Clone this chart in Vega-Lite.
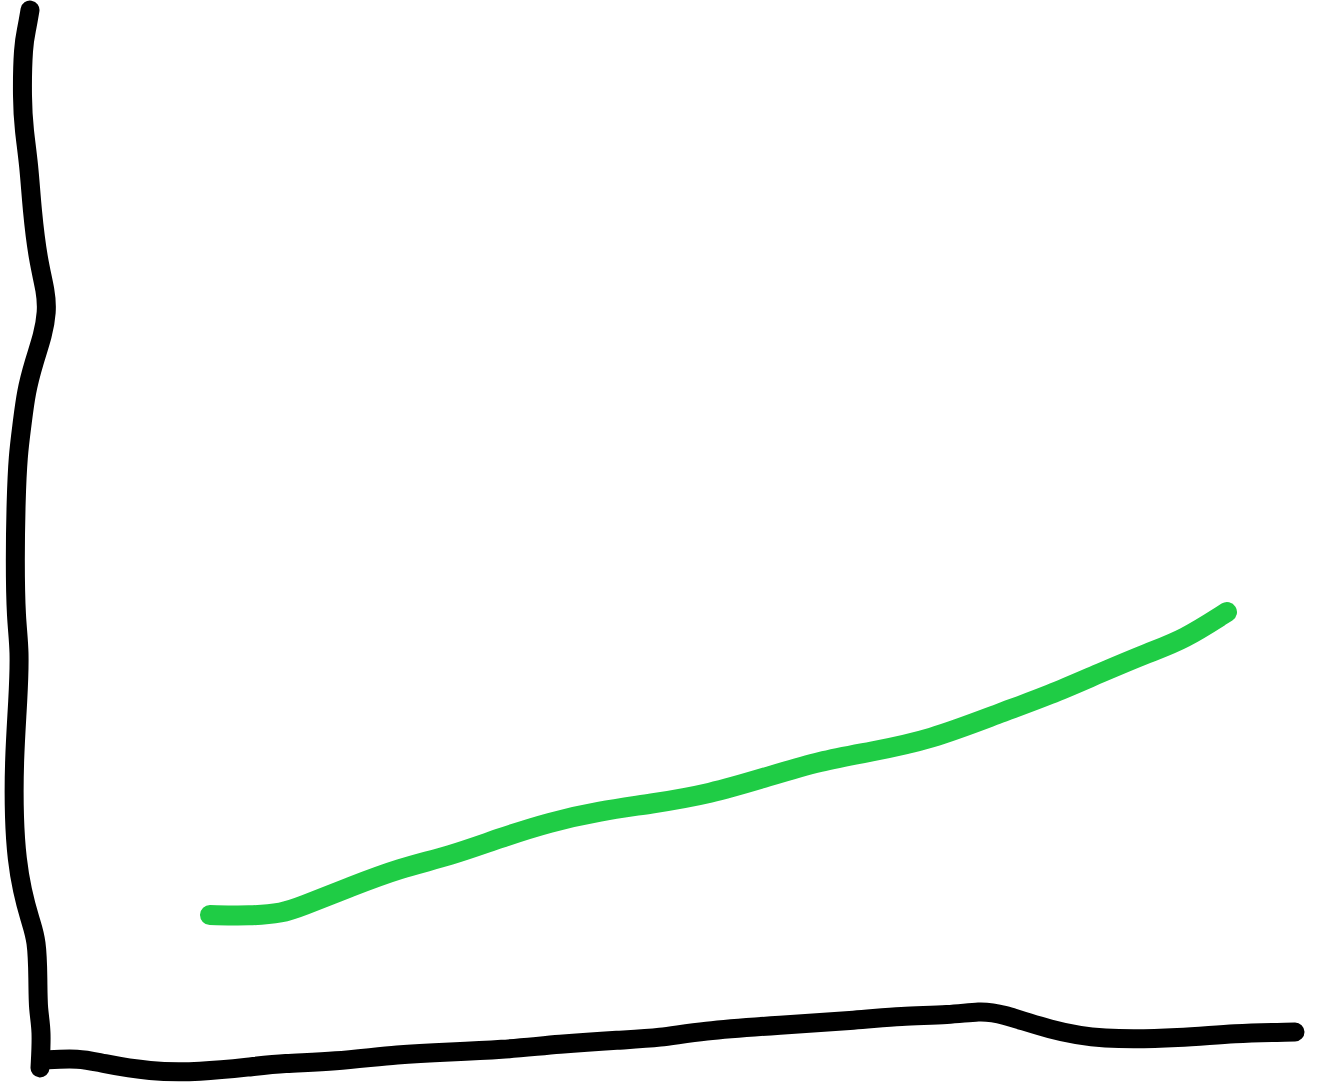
{
  "$schema": "https://vega.github.io/schema/vega-lite/v6.json",
  "width": 1321,
  "height": 1084,
  "padding": 0,
  "autosize": {"type": "fit", "contains": "padding"},
  "background": "white",
  "config": {"view": {"stroke": null}},
  "datasets": {
    "axes": [
      {"stroke": "y axis", "i": 1, "x": 30, "y": 1074},
      {"stroke": "y axis", "i": 2, "x": 27, "y": 1056},
      {"stroke": "y axis", "i": 3, "x": 23, "y": 1039},
      {"stroke": "y axis", "i": 4, "x": 22, "y": 984},
      {"stroke": "y axis", "i": 5, "x": 24, "y": 954},
      {"stroke": "y axis", "i": 6, "x": 29, "y": 919},
      {"stroke": "y axis", "i": 7, "x": 32, "y": 874},
      {"stroke": "y axis", "i": 8, "x": 38, "y": 824},
      {"stroke": "y axis", "i": 9, "x": 46, "y": 792},
      {"stroke": "y axis", "i": 10, "x": 47, "y": 772},
      {"stroke": "y axis", "i": 11, "x": 43, "y": 749},
      {"stroke": "y axis", "i": 12, "x": 34, "y": 722},
      {"stroke": "y axis", "i": 13, "x": 26, "y": 692},
      {"stroke": "y axis", "i": 14, "x": 22, "y": 659},
      {"stroke": "y axis", "i": 15, "x": 18, "y": 629},
      {"stroke": "y axis", "i": 16, "x": 16, "y": 584},
      {"stroke": "y axis", "i": 17, "x": 15, "y": 524},
      {"stroke": "y axis", "i": 18, "x": 16, "y": 464},
      {"stroke": "y axis", "i": 19, "x": 20, "y": 434},
      {"stroke": "y axis", "i": 20, "x": 18, "y": 384},
      {"stroke": "y axis", "i": 21, "x": 14, "y": 324},
      {"stroke": "y axis", "i": 22, "x": 14, "y": 264},
      {"stroke": "y axis", "i": 23, "x": 17, "y": 224},
      {"stroke": "y axis", "i": 24, "x": 22, "y": 194},
      {"stroke": "y axis", "i": 25, "x": 30, "y": 164},
      {"stroke": "y axis", "i": 26, "x": 37, "y": 144},
      {"stroke": "y axis", "i": 27, "x": 38, "y": 104},
      {"stroke": "y axis", "i": 28, "x": 38, "y": 74},
      {"stroke": "y axis", "i": 29, "x": 42, "y": 54},
      {"stroke": "y axis", "i": 30, "x": 40, "y": 16},
      {"stroke": "x axis", "i": 1, "x": 42, "y": 24},
      {"stroke": "x axis", "i": 2, "x": 80, "y": 26},
      {"stroke": "x axis", "i": 3, "x": 100, "y": 21},
      {"stroke": "x axis", "i": 4, "x": 150, "y": 12},
      {"stroke": "x axis", "i": 5, "x": 200, "y": 12},
      {"stroke": "x axis", "i": 6, "x": 250, "y": 17},
      {"stroke": "x axis", "i": 7, "x": 283, "y": 21},
      {"stroke": "x axis", "i": 8, "x": 333, "y": 22},
      {"stroke": "x axis", "i": 9, "x": 400, "y": 30},
      {"stroke": "x axis", "i": 10, "x": 450, "y": 32},
      {"stroke": "x axis", "i": 11, "x": 500, "y": 34},
      {"stroke": "x axis", "i": 12, "x": 560, "y": 40},
      {"stroke": "x axis", "i": 13, "x": 620, "y": 44},
      {"stroke": "x axis", "i": 14, "x": 660, "y": 46},
      {"stroke": "x axis", "i": 15, "x": 700, "y": 53},
      {"stroke": "x axis", "i": 16, "x": 780, "y": 59},
      {"stroke": "x axis", "i": 17, "x": 860, "y": 64},
      {"stroke": "x axis", "i": 18, "x": 900, "y": 68},
      {"stroke": "x axis", "i": 19, "x": 950, "y": 69},
      {"stroke": "x axis", "i": 20, "x": 980, "y": 73},
      {"stroke": "x axis", "i": 21, "x": 1000, "y": 71},
      {"stroke": "x axis", "i": 22, "x": 1050, "y": 54},
      {"stroke": "x axis", "i": 23, "x": 1100, "y": 44},
      {"stroke": "x axis", "i": 24, "x": 1183, "y": 46},
      {"stroke": "x axis", "i": 25, "x": 1233, "y": 51},
      {"stroke": "x axis", "i": 26, "x": 1295, "y": 52}
    ],
    "trend": [
      {"x": 210, "y": 169},
      {"x": 250, "y": 168},
      {"x": 283, "y": 171},
      {"x": 300, "y": 177},
      {"x": 350, "y": 197},
      {"x": 400, "y": 216},
      {"x": 450, "y": 228},
      {"x": 500, "y": 246},
      {"x": 550, "y": 262},
      {"x": 600, "y": 273},
      {"x": 650, "y": 280},
      {"x": 710, "y": 290},
      {"x": 770, "y": 308},
      {"x": 820, "y": 323},
      {"x": 870, "y": 332},
      {"x": 930, "y": 344},
      {"x": 1000, "y": 371},
      {"x": 1050, "y": 389},
      {"x": 1100, "y": 411},
      {"x": 1150, "y": 432},
      {"x": 1183, "y": 444},
      {"x": 1227, "y": 472}
    ]
  },
  "layer": [
    {
      "data": {"name": "axes"},
      "mark": {"type": "line", "color": "black", "strokeWidth": 19, "strokeCap": "round", "strokeJoin": "round", "interpolate": "basis"},
      "encoding": {
        "x": {"field": "x", "type": "quantitative", "scale": {"domain": [0, 1321]}, "axis": null},
        "y": {"field": "y", "type": "quantitative", "scale": {"domain": [0, 1084]}, "axis": null},
        "detail": {"field": "stroke"},
        "order": {"field": "i"}
      }
    },
    {
      "data": {"name": "trend"},
      "mark": {"type": "line", "color": "#1fcc45", "strokeWidth": 20, "strokeCap": "round", "strokeJoin": "round", "interpolate": "basis"},
      "encoding": {
        "x": {"field": "x", "type": "quantitative", "scale": {"domain": [0, 1321]}, "axis": null},
        "y": {"field": "y", "type": "quantitative", "scale": {"domain": [0, 1084]}, "axis": null}
      }
    }
  ]
}
